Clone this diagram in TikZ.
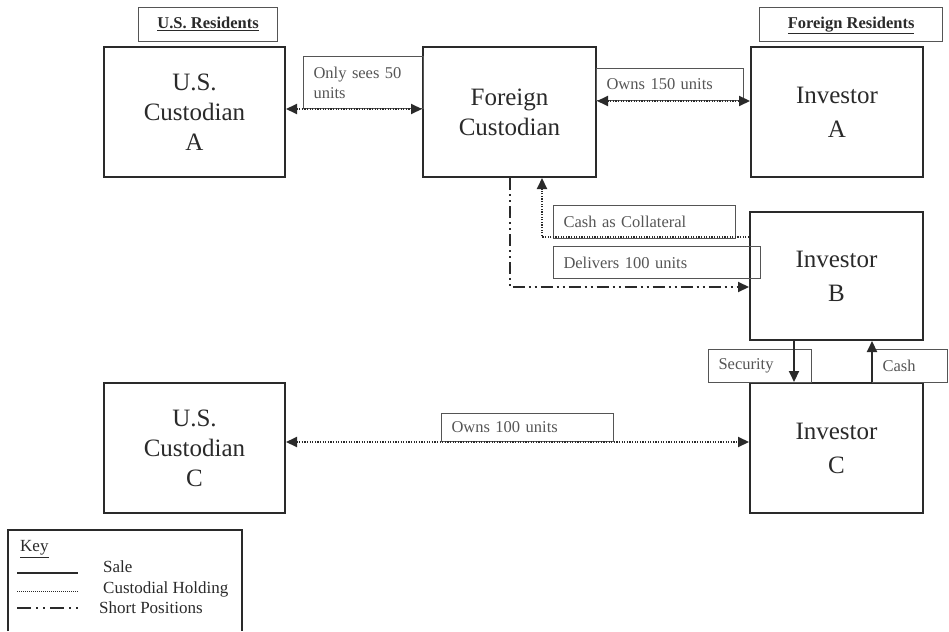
\documentclass[tikz,border=0pt]{standalone}
\usepackage{fontspec}
\setmainfont{Liberation Serif}
\usetikzlibrary{arrows.meta}
\definecolor{ln}{HTML}{2A2A2A}
\definecolor{lb}{HTML}{555555}
\tikzset{
  bigbox/.style={draw=ln, line width=2pt, rectangle, inner sep=0pt, align=center, font=\fontsize{25}{30}\selectfont, text=ln},
  invbox/.style={bigbox, font=\fontsize{25}{34}\selectfont},
  labbox/.style={draw=lb, line width=1pt, rectangle, anchor=north west, inner xsep=10pt, inner ysep=0pt, align=left, font=\fontsize{16.5}{20}\selectfont, text=lb},
  headbox/.style={draw=lb, line width=1.2pt, rectangle, anchor=north west, inner sep=0pt, text height=12pt, text depth=4pt, align=center, font=\bfseries\fontsize{16.5}{20}\selectfont, text=ln},
  tip/.style={-{Triangle[length=11pt,width=10pt]}},
  tips/.style={{Triangle[length=11pt,width=10pt]}-{Triangle[length=11pt,width=10pt]}},
  sale/.style={draw=ln, line width=2pt},
  hold/.style={draw=ln, line width=2pt, dash pattern=on 1.3pt off 1.3pt},
  shortpos/.style={draw=ln, line width=2pt, dash pattern=on 12pt off 4pt on 2pt off 4pt on 2pt off 4pt},
  keytext/.style={anchor=west, font=\fontsize{17}{20}\selectfont, text=ln, inner sep=0pt}
}
\begin{document}
\begin{tikzpicture}[x=1pt,y=-1pt]
\useasboundingbox (0,0) rectangle (949,631);
% header labels
\node[headbox, minimum width=139pt, minimum height=34pt] (hus) at (138,7) {\underline{U.S. Residents}};
\node[headbox, minimum width=183pt, minimum height=34pt] (hfor) at (759,7) {\underline{Foreign Residents}};
% main boxes
\node[bigbox, minimum width=181pt, minimum height=130pt] (usa) at (194.5,112) {U.S.\\Custodian\\A};
\node[bigbox, minimum width=173pt, minimum height=130pt] (fc) at (509.5,112) {Foreign\\Custodian};
\node[invbox, minimum width=172pt, minimum height=130pt] (ia) at (837,112) {Investor\\A};
\node[invbox, minimum width=173pt, minimum height=128pt] (ib) at (836.5,276) {Investor\\B};
\node[invbox, minimum width=173pt, minimum height=130pt] (ic) at (836.5,448) {Investor\\C};
\node[bigbox, minimum width=181pt, minimum height=130pt] (usc) at (194.5,448) {U.S.\\Custodian\\C};
% label boxes
\node[labbox, minimum width=120pt, minimum height=52pt, text width=100pt] (l50) at (303,56) {Only sees 50\\units};
\node[labbox, minimum width=147pt, minimum height=32pt, text width=127pt] (l150) at (596,68) {Owns 150 units};
\node[labbox, minimum width=182pt, minimum height=33pt, text width=162pt] (lcash) at (553,205) {Cash as Collateral};
\node[labbox, minimum width=207pt, minimum height=32pt, text width=187pt] (ldel) at (553,246) {Delivers 100 units};
\node[labbox, minimum width=103pt, minimum height=33pt, text width=83pt] (lsec) at (708,349) {Security};
\node[labbox, minimum width=75pt, minimum height=33pt, text width=55pt] (lc) at (872,349) {Cash};
\node[labbox, minimum width=172pt, minimum height=28pt, text width=152pt] (l100) at (441,413) {Owns 100 units};
% connectors
\draw[hold, tips] (usa.east |- l50.south) -- (fc.west |- l50.south);
\draw[hold, tips] (fc.east |- l150.south) -- (ia.west |- l150.south);
\coordinate (sc) at (509.5,287);
\draw[shortpos, tip] (fc.south) -- (sc) -- (ib.west |- sc);
\coordinate (cc) at (542,237);
\draw[hold, tip] (ib.west |- cc) -- (cc) -- (cc |- fc.south);
\coordinate (sx) at (794,360);
\coordinate (cx) at (872,360);
\draw[sale, tip] (ib.south -| sx) -- (ic.north -| sx);
\draw[sale, tip] (ic.north -| cx) -- (ib.south -| cx);
\draw[hold, tips] (usc.east |- l100.south) -- (ic.west |- l100.south);
% key
\draw[draw=ln, line width=1.5pt] (8,631) -- (8,530) coordinate (k1) -- (242,530) coordinate (k2) -- (242,631);
\node[keytext] (key) at (20,549) {\underline{Key}};
\coordinate (ks1) at (17,573); \coordinate (ke1) at (78,573);
\coordinate (ks2) at (17,591); \coordinate (ke2) at (78,591);
\coordinate (ks3) at (17,608); \coordinate (ke3) at (78,608);
\draw[sale] (ks1) -- (ke1);
\draw[draw=ln, line width=1pt, dash pattern=on 1pt off 1pt] (ks2) -- (ke2);
\draw[draw=ln, line width=2pt, dash pattern=on 14pt off 5pt on 2pt off 5pt on 2pt off 5pt] (ks3) -- (ke3);
\node[keytext] (ksale) at (103,567) {Sale};
\node[keytext] (khold) at (103,589) {Custodial Holding};
\node[keytext] (kshort) at (99,608) {Short Positions};
\end{tikzpicture}
\end{document}
